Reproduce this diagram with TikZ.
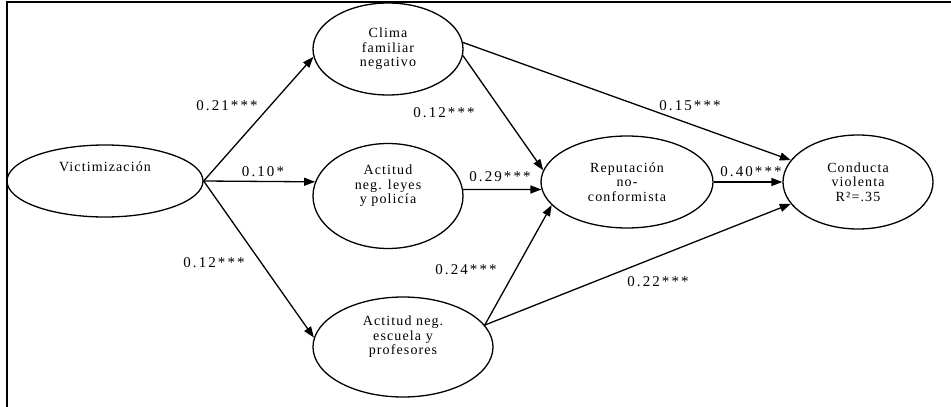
\documentclass[tikz,border=0pt]{standalone}
\usepackage{fontspec}
\usetikzlibrary{shapes.geometric,arrows.meta}
\newfontfamily\varfont[LetterSpace=8]{Liberation Serif}
\newfontfamily\coeffont[LetterSpace=14]{Liberation Serif}
\begin{document}
\begin{tikzpicture}[x=1pt,y=-1pt,
    var/.style={draw,ellipse,line width=1.3pt,inner sep=0pt,align=center,
        font=\varfont\fontsize{14}{14.5}\selectfont},
    coef/.style={inner sep=0pt,font=\coeffont\fontsize{15}{16}\selectfont},
    effect/.style={line width=1.3pt,-{Triangle[length=11pt,width=8pt]}}]
    \useasboundingbox (0,0) rectangle (951,407);
    \draw[line width=1.8pt] (7,407) -- (7,2) -- (951,2);

    \node[var,minimum width=196pt,minimum height=72pt,text depth=29pt] (vict) at (105,181) {Victimización};
    \node[var,minimum width=150pt,minimum height=92pt] (clima) at (388,49) {Clima\\familiar\\negativo};
    \node[var,minimum width=150pt,minimum height=105pt,text depth=23pt] (leyes) at (388,196) {Actitud\\neg. leyes\\y policía};
    \node[var,minimum width=180pt,minimum height=100pt,text depth=23pt] (escuela) at (403,347) {Actitud neg.\\escuela y\\profesores};
    \node[var,minimum width=172pt,minimum height=92pt] (rep) at (627,182) {Reputación\\no-\\conformista};
    \node[var,minimum width=150pt,minimum height=94pt] (cond) at (858,182) {Conducta\\violenta\\R²=.35};

    \draw[effect] (vict.east) -- (clima.186);
    \draw[effect] (vict.east) -- (leyes.169);
    \draw[effect] (vict.east) -- (escuela.174);
    \draw[effect] (clima.-5) -- (rep.172);
    \draw[effect] (clima.5) -- (cond.162);
    \draw[effect] (leyes.5) -- (rep.185);
    \draw[effect] (escuela.15) -- (rep.197);
    \draw[effect] (escuela.15) -- (cond.198);
    \draw[effect] (rep.east) -- (cond.west);

    \node[coef] (c21) at (227,106) {0.21***};
    \node[coef] (c10) at (263,172) {0.10*};
    \node[coef] (c12a) at (214,263) {0.12***};
    \node[coef] (c12b) at (444,113) {0.12***};
    \node[coef] (c29) at (500,177) {0.29***};
    \node[coef] (c15) at (690,106) {0.15***};
    \node[coef] (c40) at (751,172) {0.40***};
    \node[coef] (c24) at (466,270) {0.24***};
    \node[coef] (c22) at (658,282) {0.22***};
\end{tikzpicture}
\end{document}
